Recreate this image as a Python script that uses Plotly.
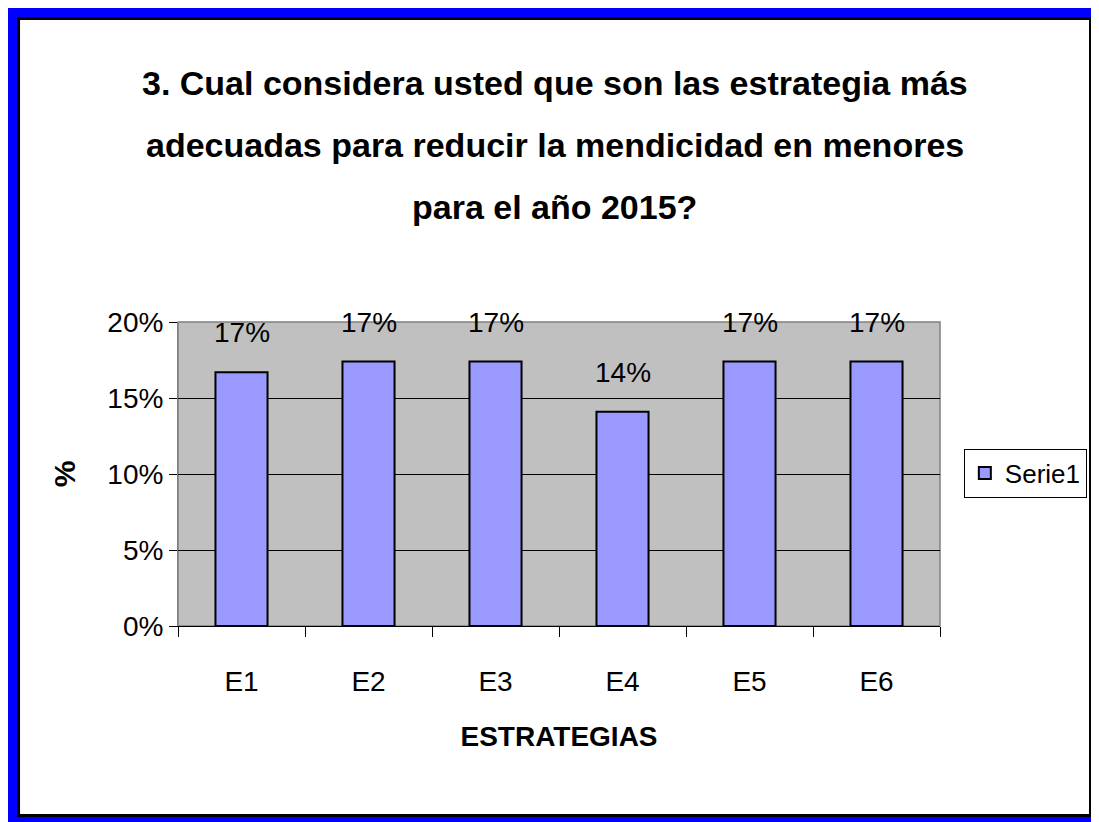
import plotly.graph_objects as go

# Data
categories = ["E1", "E2", "E3", "E4", "E5", "E6"]
values = [0.167, 0.174, 0.174, 0.141, 0.174, 0.174]
y_ticks = [0, 0.05, 0.10, 0.15, 0.20]
y_tick_labels = ["0%", "5%", "10%", "15%", "20%"]
title_lines = [
    "3. Cual considera usted que son las estrategia más",
    "adecuadas para reducir la mendicidad en menores",
    "para el año 2015?",
]
series_name = "Serie1"

# page has an 8px body margin, so figure coords = reference px - 8
OFF = 8
W, H = 1099 - OFF, 822 - OFF
PLOT_L, PLOT_R, PLOT_T, PLOT_B = 178 - OFF, 945 - OFF, 322 - OFF, 626 - OFF
FONT = "Liberation Sans, Arial, sans-serif"


def px_x(px):
    return (px - OFF - PLOT_L) / (PLOT_R - PLOT_L)


def px_y(py):
    return (PLOT_B - (py - OFF)) / (PLOT_B - PLOT_T)


fig = go.Figure()
fig.add_trace(
    go.Bar(
        x=categories,
        y=values,
        name=series_name,
        width=0.41,
        marker=dict(color="#9999FF", line=dict(color="black", width=2)),
        showlegend=True,
    )
)

# data labels above bars
for cat, val in zip(categories, values):
    fig.add_annotation(
        x=cat, y=val, text=f"{val:.0%}", showarrow=False,
        yanchor="bottom", yshift=22,
        font=dict(family=FONT, size=28, color="black"),
    )

# title, one annotation per line
for i, line in enumerate(title_lines):
    fig.add_annotation(
        x=px_x(557), xref="paper", xanchor="center",
        y=px_y(83 + i * 62), yref="paper", yanchor="middle",
        text=f"<b>{line}</b>", showarrow=False,
        font=dict(family=FONT, size=34, color="black"),
    )

# frame: blue outer, black inner border
fig.add_shape(type="rect", xref="paper", yref="paper", layer="below",
              x0=px_x(6), x1=px_x(1102), y0=px_y(826), y1=px_y(4),
              fillcolor="#0000FF", line=dict(width=0))
fig.add_shape(type="rect", xref="paper", yref="paper", layer="below",
              x0=px_x(17.5), x1=px_x(1096.5), y0=px_y(815.5), y1=px_y(18.5),
              fillcolor="white", line=dict(color="black", width=3))
# plot area background
fig.add_shape(type="rect", xref="paper", yref="paper", layer="below",
              x0=0, x1=1, y0=0, y1=1,
              fillcolor="#C0C0C0", line=dict(color="#808080", width=1.5))

fig.update_layout(
    width=W, height=H,
    margin=dict(l=PLOT_L, r=W - PLOT_R, t=PLOT_T, b=H - PLOT_B),
    paper_bgcolor="white",
    plot_bgcolor="rgba(0,0,0,0)",
    font=dict(family=FONT, size=28, color="black"),
    bargap=0.59,
    legend=dict(
        x=px_x(969), xanchor="left", y=px_y(473), yanchor="middle",
        bgcolor="white", bordercolor="black", borderwidth=1,
        font=dict(family=FONT, size=26, color="black"),
        itemwidth=30,
    ),
)

fig.update_xaxes(
    type="category",
    showgrid=False,
    showline=True, linecolor="black", linewidth=1,
    ticks="outside", tickson="boundaries", ticklen=10, tickcolor="black",
    ticklabelstandoff=30,
    tickfont=dict(family=FONT, size=28),
    title=dict(text="<b>ESTRATEGIAS</b>", font=dict(family=FONT, size=28), standoff=30),
)
fig.update_yaxes(
    range=[0, 0.2],
    tickvals=y_ticks, ticktext=y_tick_labels,
    showgrid=True, gridcolor="black", gridwidth=1,
    showline=True, linecolor="#808080", linewidth=1,
    ticks="outside", ticklen=8, tickcolor="black",
    tickfont=dict(family=FONT, size=28),
    title=dict(text="<b>%</b>", font=dict(family=FONT, size=30), standoff=22),
    zeroline=False,
)

fig.write_html("out.html")
